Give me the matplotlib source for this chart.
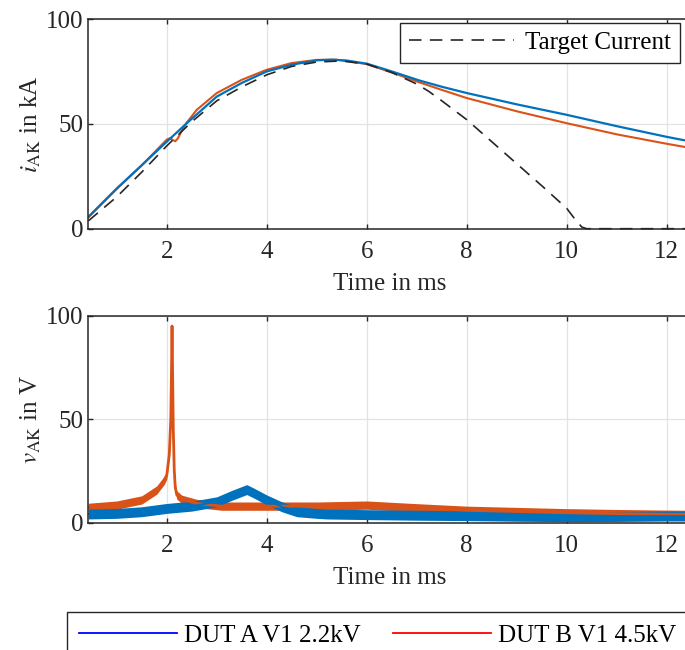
import numpy as np
import matplotlib
matplotlib.use('Agg')
import matplotlib.pyplot as plt
from matplotlib.lines import Line2D

plt.rcParams['font.family'] = ['Liberation Serif', 'DejaVu Serif']
plt.rcParams['mathtext.fontset'] = 'stix'
plt.rcParams['font.size'] = 18

BLUE = '#0072BD'
ORANGE = '#D95319'

# current, top panel (kA)
t_target = [0.43, 1, 1.5, 2, 2.5, 3, 3.5, 4, 4.5, 5, 5.5, 6, 6.5, 7, 7.24, 7.5, 8, 8.5, 9, 9.5, 10, 10.15, 10.3, 10.4, 12.5]
i_target = [3.7, 15.2, 27, 39.5, 51, 61, 67.6, 73.4, 77.4, 79.5, 80, 78.5, 74.5, 69, 65.5, 61, 52, 41.5, 31, 20.5, 9.7, 5, 0.8, 0, 0]

t_cur_a = [0.43, 1, 1.5, 2, 2.4, 3, 3.5, 4, 4.5, 5, 5.3, 5.6, 6, 6.5, 7.05, 7.5, 8, 9, 10, 11, 12, 12.5]
i_cur_a = [5.6, 19.2, 30.3, 41.5, 50.3, 63, 69.5, 75, 78.2, 80.3, 80.6, 80.2, 78.7, 75, 70.7, 67.7, 64.7, 59.3, 54.3, 48.9, 43.8, 41.5]

t_cur_b = [0.43, 1, 1.5, 2, 2.07, 2.12, 2.17, 2.22, 2.29, 2.39, 2.6, 3, 3.5, 4, 4.5, 5, 5.4, 6, 6.5, 7.05, 7.5, 8, 9, 10, 11, 12, 12.5]
i_cur_b = [5.4, 19, 30.2, 42.5, 43.2, 42.3, 41.7, 43, 46.3, 50.3, 56.7, 64.7, 71, 75.8, 79, 80.5, 80.6, 78.5, 74.5, 69.8, 66.2, 62.3, 56, 50.3, 45, 40.5, 38.4]

# voltage, bottom panel (V)
t_volt_a = [0.43, 1, 1.5, 2, 2.5, 3, 3.3, 3.6, 3.75, 4, 4.3, 4.6, 5, 5.2, 6, 7, 8, 9, 10, 11, 12, 12.5]
v_volt_a = [4.2, 4.5, 5.3, 6.9, 8, 10.1, 13.2, 16, 14.2, 11, 7.7, 5.3, 4.5, 4.2, 3.9, 3.6, 3.4, 3.1, 2.9, 3, 3.2, 3.2]

t_volt_b = [0.43, 1.0, 1.5, 1.8, 1.95, 2.0, 2.05, 2.08, 2.095, 2.105, 2.115, 2.13, 2.15, 2.17, 2.2, 2.3, 2.6, 3.1, 4.0, 5.0, 6.0, 7.0, 8.0, 9.0, 10.0, 11.0, 12.0, 12.5]
v_volt_b = [7.4, 8.5, 11, 15.8, 20.5, 23, 33, 50, 75, 95, 75, 45, 25, 17, 13.4, 11.3, 9.3, 8, 8, 8, 8.5, 7.2, 6, 5.4, 4.8, 4.4, 4.1, 4.0]

xticks = [2, 4, 6, 8, 10, 12]
yticks = [0, 50, 100]

W, H = 685, 650
fig = plt.figure(figsize=(W / 100, H / 100), dpi=100)

ax1 = fig.add_axes([88.3 / W, 1 - 228.7 / H, 603.4 / W, 209.7 / H])
ax2 = fig.add_axes([88.3 / W, 1 - 522.7 / H, 603.4 / W, 207.0 / H])


def style(ax, ylab):
    ax.set_xlim(0.43, 12.5)
    ax.set_ylim(0, 100)
    ax.set_xticks(xticks)
    ax.set_yticks(yticks)
    ax.grid(True, color='#e3e3e3', lw=0.9)
    ax.set_axisbelow(True)
    for s in ax.spines.values():
        s.set_color('#262626')
        s.set_linewidth(1.1)
    ax.tick_params(direction='in', length=3.5, width=1.0, color='#262626',
                   top=True, right=True, labelcolor='#262626')
    ax.tick_params(axis='x', pad=9)
    ax.tick_params(axis='y', pad=3.6)
    ax.set_xlabel('Time in ms', color='#262626', labelpad=7)
    ax.set_ylabel(ylab, color='#262626', labelpad=2)


ax1.plot(t_cur_b, i_cur_b, color=ORANGE, lw=1.5)
ax1.plot(t_cur_a, i_cur_a, color=BLUE, lw=1.6)
ax1.plot(t_target, i_target, color='#262626', lw=1.2, dashes=(7.5, 5),
         label='Target Current', clip_on=False)
style(ax1, r'$i_{\mathrm{AK}}$ in kA')
ax1.legend(loc='upper right', bbox_to_anchor=((680 - 88.3) / 603.4, 1 - 3.7 / 209.7),
           borderaxespad=0, fancybox=False, framealpha=1, edgecolor='#262626',
           handlelength=4.2, handletextpad=0.45, borderpad=0.35, fontsize=18).get_frame().set_linewidth(1.0)

# noisy measurement bands
vb = np.array(v_volt_b)
va = np.array(v_volt_a)
ax2.fill_between(t_volt_b, vb - 2.0, vb + 2.0, color=ORANGE, lw=0)
ax2.plot(t_volt_b, vb, color=ORANGE, lw=2.0)
ax2.fill_between(t_volt_a, va - 2.4, va + 2.4, color=BLUE, lw=0)
ax2.plot(t_volt_a, va, color=BLUE, lw=1.3)
style(ax2, r'$v_{\mathrm{AK}}$ in V')

handles = [Line2D([], [], color='#0000ff', lw=1.3),
           Line2D([], [], color='#ff0000', lw=1.3)]
leg = fig.legend(handles, ['DUT A V1 2.2kV', 'DUT B V1 4.5kV'], ncol=2,
                 loc='upper left', bbox_to_anchor=(66.5 / W, 1 - 611.7 / H),
                 borderaxespad=0, fancybox=False, framealpha=1, edgecolor='#262626',
                 handlelength=3.9, handletextpad=0.3, columnspacing=1.3,
                 borderpad=0.5, fontsize=18)
leg.get_frame().set_linewidth(1.0)

fig.savefig('out.png', dpi=100)
